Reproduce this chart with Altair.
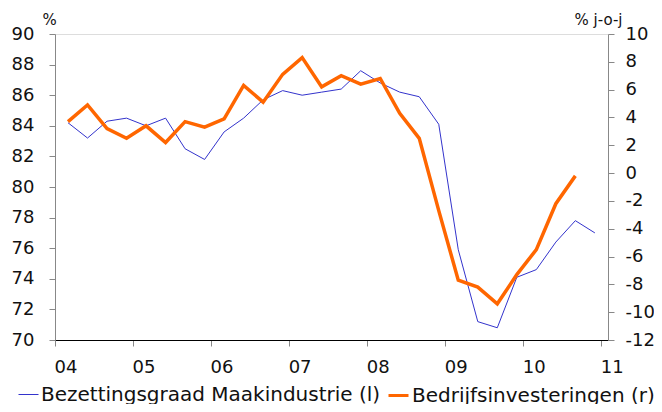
import altair as alt
import pandas as pd

# quarterly observations, plotted at months 3, 6, 9, 12 of each year
years_blue = [2004]*4 + [2005]*4 + [2006]*4 + [2007]*4 + [2008]*4 + [2009]*4 + [2010]*4
months_blue = [3, 6, 9, 12] * 7
bezetting = [84.2, 83.2, 84.3, 84.5, 84.0, 84.5, 82.5, 81.8,
             83.6, 84.5, 85.7, 86.3, 86.0, 86.2, 86.4, 87.6,
             86.8, 86.2, 85.9, 84.1, 75.9, 71.2, 70.8, 74.1,
             74.6, 76.4, 77.8, 77.0]

years_orange = years_blue[:27]
months_orange = months_blue[:27]
investeringen = [3.7, 4.9, 3.2, 2.5, 3.4, 2.2, 3.7, 3.3,
                 3.9, 6.3, 5.1, 7.1, 8.3, 6.2, 7.0, 6.4,
                 6.8, 4.3, 2.5, -2.7, -7.7, -8.2, -9.4, -7.3,
                 -5.5, -2.2, -0.2]

series_names = ["Bezettingsgraad Maakindustrie (l)", "Bedrijfsinvesteringen (r)"]
series_colors = ["#3333CC", "#FF6600"]
series_widths = [1.0, 3.5]

year_ticks = [2004, 2005, 2006, 2007, 2008, 2009, 2010, 2011]
left_ticks = list(range(70, 91, 2))
right_ticks = list(range(-12, 11, 2))


def to_x(y, m):
    return y + (m - 1) / 12.0


df_b = pd.DataFrame({
    "x": [to_x(y, m) for y, m in zip(years_blue, months_blue)],
    "v": bezetting,
    "series": series_names[0],
})
df_o = pd.DataFrame({
    "x": [to_x(y, m) for y, m in zip(years_orange, months_orange)],
    "v": investeringen,
    "series": series_names[1],
})

FONT = "DejaVu Sans"

xenc = alt.X("x:Q", scale=alt.Scale(domain=[2004, 2011.085], nice=False, zero=False),
             axis=alt.Axis(values=year_ticks, labelExpr="substring(toString(datum.value), 2, 4)",
                           title=None, grid=False, domainColor="black", domainWidth=1.2,
                           tickColor="#888888", tickSize=6, labelAlign="left", labelOffset=-1,
                           labelPadding=12, labelFontSize=18, labelFont=FONT,
                           labelColor="#111111"))


def legend(x, sw):
    return alt.Legend(title=None, orient="none", legendX=x, legendY=350,
                      direction="horizontal", symbolType="stroke", symbolStrokeWidth=sw,
                      symbolSize=400, labelFontSize=20, labelFont=FONT,
                      labelColor="#111111", labelLimit=500, labelOffset=2, padding=0)


blue = alt.Chart(df_b).mark_line(strokeWidth=series_widths[0]).encode(
    x=xenc,
    y=alt.Y("v:Q", scale=alt.Scale(domain=[70, 90], nice=False, zero=False),
            axis=alt.Axis(orient="left", values=left_ticks, grid=False, title="%",
                          labelExpr="toString(datum.value)",
                          titleAngle=0, titleX=-6, titleY=-10, titleAlign="center",
                          titleBaseline="alphabetic", titleFontSize=15, titleFont=FONT,
                          titleFontWeight="normal", titleColor="#111111",
                          domainColor="#888888", tickColor="#888888", tickSize=6,
                          labelPadding=15, labelFontSize=18, labelFont=FONT,
                          labelColor="#111111")),
    color=alt.Color("series:N", scale=alt.Scale(domain=[series_names[0]], range=[series_colors[0]]),
                    legend=legend(-37, series_widths[0])),
)

orange = alt.Chart(df_o).mark_line(strokeWidth=series_widths[1]).encode(
    x=xenc,
    y=alt.Y("v:Q", scale=alt.Scale(domain=[-12, 10], nice=False, zero=False),
            axis=alt.Axis(orient="right", values=right_ticks, grid=False, title="% j-o-j",
                          labelExpr="toString(datum.value)",
                          titleAngle=0, titleX=-10, titleY=-10, titleAlign="center",
                          titleBaseline="alphabetic", titleFontSize=15, titleFont=FONT,
                          titleFontWeight="normal", titleColor="#111111",
                          domainColor="#888888", tickColor="#888888", tickSize=6,
                          labelPadding=11, labelFontSize=18, labelFont=FONT,
                          labelColor="#111111")),
    stroke=alt.Stroke("series:N", scale=alt.Scale(domain=[series_names[1]], range=[series_colors[1]]),
                      legend=legend(332, 3)),
)

chart = alt.layer(blue, orange).resolve_scale(y="independent").properties(
    width=553, height=306,
    autosize=alt.AutoSizeParams(type="none"),
    padding={"left": 47, "top": 26, "right": 46, "bottom": 64},
).configure_view(stroke=None).configure(background="white")

chart.save("out.html", embed_options={"renderer": "svg", "actions": False})
